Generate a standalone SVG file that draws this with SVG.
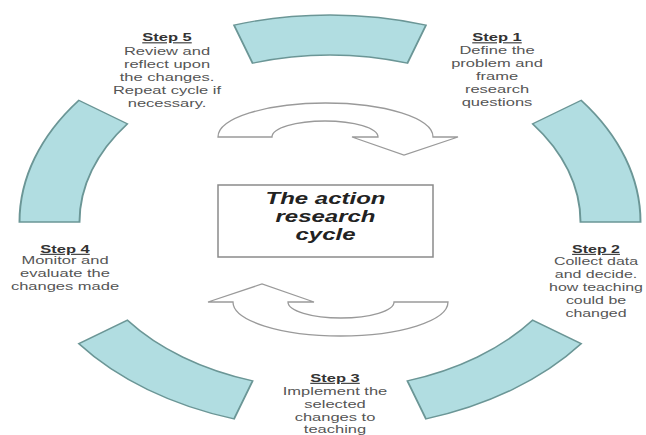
<svg xmlns="http://www.w3.org/2000/svg" xmlns:xlink="http://www.w3.org/1999/xlink" width="646" height="435" viewBox="0 0 646 435">
<style>
.seg{fill:#b1dde1;stroke:#6b9696;stroke-width:1.3;vector-effect:non-scaling-stroke}
.arr{fill:#ffffff;stroke:#9a9a9a;stroke-width:1.3;stroke-linejoin:miter}
.box{fill:#ffffff;stroke:#8a8a8a;stroke-width:1.5}
.st{font-family:"Liberation Sans",Arial,sans-serif;font-size:11px;fill:#555555;text-anchor:middle}
.hd{font-weight:bold;fill:#333333;text-decoration:underline}
.ttl{font-family:"Liberation Sans",Arial,sans-serif;font-size:16px;font-weight:bold;font-style:italic;fill:#222222;text-anchor:middle}
</style>
<defs>
<path id="seg" d="M -63.97,-196.87 A 207,207 0 0 1 63.97,-196.87 L 51.61,-158.83 A 167,167 0 0 0 -51.61,-158.83 Z"/>
</defs>
<g id="ring" transform="translate(330 222) scale(1.5 1)">
<use xlink:href="#seg" href="#seg" class="seg"/>
<use xlink:href="#seg" href="#seg" class="seg" transform="rotate(72)"/>
<use xlink:href="#seg" href="#seg" class="seg" transform="rotate(144)"/>
<use xlink:href="#seg" href="#seg" class="seg" transform="rotate(216)"/>
<use xlink:href="#seg" href="#seg" class="seg" transform="rotate(288)"/>
</g>
<g id="connectors">
<path id="arrow-top" class="arr" d="M 218,137 A 107.5,34 0 0 1 433,137 L 458,137 L 404,155 L 352,137 L 378,137 A 53,16 0 0 0 272,137 Z"/>
<path id="arrow-bottom" class="arr" d="M 218,137 A 107.5,34 0 0 1 433,137 L 458,137 L 404,155 L 352,137 L 378,137 A 53,16 0 0 0 272,137 Z" transform="rotate(180 333 219.5)"/>
</g>
<g id="center">
<rect class="box" x="218" y="185" width="215" height="72"/>
<g transform="translate(325.5 0) scale(1.5 1)">
<text class="ttl" x="0" y="204">The action</text>
<text class="ttl" x="0" y="222">research</text>
<text class="ttl" x="0" y="240">cycle</text>
</g>
</g>
<g id="step1" transform="translate(497 0) scale(1.5 1)">
<text class="st hd" x="0" y="41.5">Step 1</text>
<text class="st" x="0" y="54.5">Define the</text>
<text class="st" x="0" y="67.5">problem and</text>
<text class="st" x="0" y="80.5">frame</text>
<text class="st" x="0" y="93.5">research</text>
<text class="st" x="0" y="106.5">questions</text>
</g>
<g id="step2" transform="translate(596 0) scale(1.45 1)">
<text class="st hd" x="0" y="253">Step 2</text>
<text class="st" x="0" y="265">Collect data</text>
<text class="st" x="0" y="278">and decide.</text>
<text class="st" x="0" y="291">how teaching</text>
<text class="st" x="0" y="304">could be</text>
<text class="st" x="0" y="317">changed</text>
</g>
<g id="step3" transform="translate(335 0) scale(1.5 1)">
<text class="st hd" x="0" y="382">Step 3</text>
<text class="st" x="0" y="395">Implement the</text>
<text class="st" x="0" y="408">selected</text>
<text class="st" x="0" y="421">changes to</text>
<text class="st" x="0" y="433.5">teaching</text>
</g>
<g id="step4" transform="translate(65 0) scale(1.5 1)">
<text class="st hd" x="0" y="253">Step 4</text>
<text class="st" x="0" y="264.5">Monitor and</text>
<text class="st" x="0" y="277.5">evaluate the</text>
<text class="st" x="0" y="290.5">changes made</text>
</g>
<g id="step5" transform="translate(167 0) scale(1.5 1)">
<text class="st hd" x="0" y="41.5">Step 5</text>
<text class="st" x="0" y="55">Review and</text>
<text class="st" x="0" y="68">reflect upon</text>
<text class="st" x="0" y="81">the changes.</text>
<text class="st" x="0" y="94.5">Repeat cycle if</text>
<text class="st" x="0" y="107.5">necessary.</text>
</g>
</svg>
